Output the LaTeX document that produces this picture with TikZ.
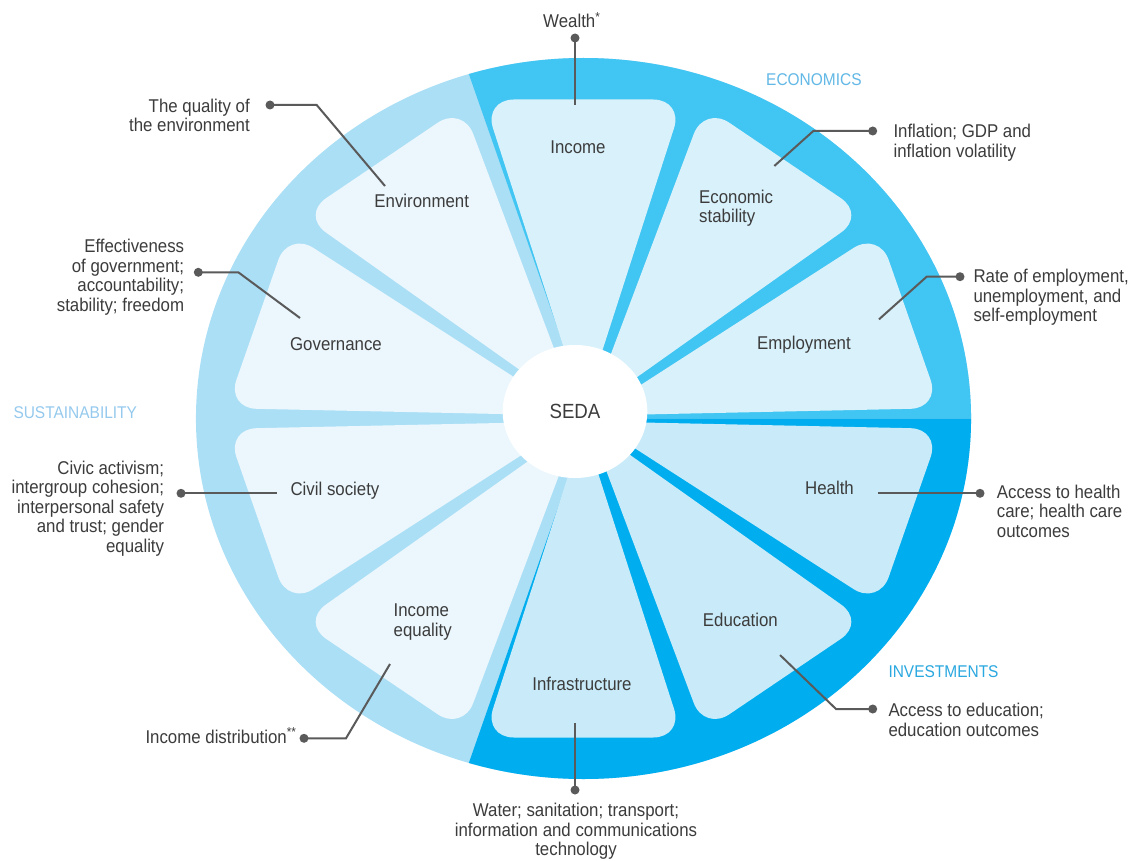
\documentclass[tikz,border=0pt]{standalone}
\usepackage{fontspec}
\setmainfont{Liberation Sans}[FakeStretch=0.91]
\definecolor{sustring}{HTML}{ABDFF6}
\definecolor{econring}{HTML}{41C5F2}
\definecolor{invring}{HTML}{00AEEF}
\definecolor{sustw}{HTML}{EBF7FD}
\definecolor{econw}{HTML}{D9F1FB}
\definecolor{invw}{HTML}{C9EBF9}
\definecolor{textgrey}{HTML}{3C3C3C}
\definecolor{leadgrey}{HTML}{5A5A5A}
\definecolor{econlbl}{HTML}{62B8E6}
\definecolor{sustlbl}{HTML}{95CAEE}
\definecolor{invlbl}{HTML}{2AA8E0}
\begin{document}
\begin{tikzpicture}[x=1pt,y=1pt,
  txt/.style={font=\fontsize{18.5}{19.6}\selectfont, text=textgrey, inner sep=0pt},
  grouplbl/.style={font=\fontsize{17}{19}\selectfont, inner sep=0pt},
  leader/.style={draw=leadgrey, line width=2pt},
  dotnode/.style={circle, fill=leadgrey, inner sep=0pt, minimum size=9pt}]
\useasboundingbox (0,0) rectangle (1134,-861);
\fill[white] (0,0) rectangle (1134,-861);

% ring and wedges
\begin{scope}[shift={(583.5,-418.5)}, xscale=1.075]
  \fill[sustring] (0,0) circle (360.5);
  \begin{scope}
    \clip (0,0) circle (360.5);
    \fill[econring] (5.26,0) -- ++(108:600) -- (600,600) -- (600,0) -- cycle;
    \fill[invring] (5.26,0) -- ++(-108:600) -- (600,-600) -- (600,0) -- cycle;
  \end{scope}
  \foreach \a/\c in {90/econw,54/econw,18/econw,-18/invw,-54/invw,-90/invw,-126/sustw,-162/sustw,162/sustw,126/sustw}{
    \fill[\c, rotate=\a, rounded corners=30pt] (9.5,0) -- (319,-92.8) -- (319,92.8) -- cycle;
  }
\end{scope}

% centre
\fill[white] (575,-411.5) ellipse [x radius=72.3, y radius=66.5];
\node[font=\fontsize{20.5}{22}\selectfont, text=textgrey, inner sep=0pt] (seda) at (575,-411.5) {SEDA};

% wedge labels
\node[txt, anchor=base] (income) at (578,-154) {Income};
\node[txt, anchor=base west, align=left] (econstab) at (699,-222.6) {Economic\\stability};
\node[txt, anchor=base] (employ) at (804,-349) {Employment};
\node[txt, anchor=base] (health) at (829.5,-494) {Health};
\node[txt, anchor=base west] (educ) at (702.7,-626.7) {Education};
\node[txt, anchor=base] (infra) at (582,-690.7) {Infrastructure};
\node[txt, anchor=base west, align=left] (ineq) at (393.5,-636.3) {Income\\equality};
\node[txt, anchor=base] (civil) at (335,-495) {Civil society};
\node[txt, anchor=base] (gov) at (336,-350) {Governance};
\node[txt, anchor=base] (env) at (421.7,-207.3) {Environment};

% group labels
\node[grouplbl, text=econlbl, anchor=base west] (econ) at (766,-86) {ECONOMICS};
\node[grouplbl, text=invlbl, anchor=base west] (inv) at (888.3,-677.3) {INVESTMENTS};
\node[grouplbl, text=sustlbl, anchor=base west] (sust) at (13.3,-418.3) {SUSTAINABILITY};

% outer descriptions (base anchor = baseline of last line)
\node[txt, anchor=base west] (wealth) at (543,-28) {Wealth\textsuperscript{*}};
\node[txt, anchor=base west, align=left] (inflation) at (893.3,-157.1) {Inflation; GDP and\\inflation volatility};
\node[txt, anchor=base west, align=left] (rate) at (973.3,-321.9) {Rate of employment,\\unemployment, and\\self-employment};
\node[txt, anchor=base west, align=left] (access) at (996.7,-537.5) {Access to health\\care; health care\\outcomes};
\node[txt, anchor=base west, align=left] (accedu) at (888.3,-736.3) {Access to education;\\education outcomes};
\node[txt, anchor=base, align=center] (water) at (576,-855.9) {Water; sanitation; transport;\\information and communications\\technology};
\node[txt, anchor=base east] (incdist) at (296.7,-743) {Income distribution\textsuperscript{**}};
\node[txt, anchor=base east, align=right] (civic) at (164.3,-552.4) {Civic activism;\\intergroup cohesion;\\interpersonal safety\\and trust; gender\\equality};
\node[txt, anchor=base east, align=right] (effect) at (184.3,-311.5) {Effectiveness\\of government;\\accountability;\\stability; freedom};
\node[txt, anchor=base east, align=right] (quality) at (250,-131.9) {The quality of\\the environment};

% leader lines
\node[dotnode] (d1) at (575,-38) {};
\coordinate (e1) at (575,-105);
\draw[leader] (d1.center) -- (e1);

\node[dotnode] (d2) at (872.7,-131) {};
\coordinate (k2) at (813.3,-131);
\coordinate (e2) at (774.3,-166);
\draw[leader] (d2.center) -- (k2) -- (e2);

\node[dotnode] (d3) at (960,-276.7) {};
\coordinate (k3) at (926.7,-276.7);
\coordinate (e3) at (879,-319.3);
\draw[leader] (d3.center) -- (k3) -- (e3);

\node[dotnode] (d4) at (980,-493.3) {};
\coordinate (e4) at (878.3,-493.3);
\draw[leader] (d4.center) -- (e4);

\node[dotnode] (d5) at (872.7,-709) {};
\coordinate (k5) at (836,-709);
\coordinate (e5) at (780,-655);
\draw[leader] (d5.center) -- (k5) -- (e5);

\node[dotnode] (d6) at (575,-790) {};
\coordinate (e6) at (575,-723.3);
\draw[leader] (d6.center) -- (e6);

\node[dotnode] (d7) at (304,-738.3) {};
\coordinate (k7) at (346,-738.3);
\coordinate (e7) at (390,-664);
\draw[leader] (d7.center) -- (k7) -- (e7);

\node[dotnode] (d8) at (181,-493.3) {};
\coordinate (e8) at (276.7,-493.3);
\draw[leader] (d8.center) -- (e8);

\node[dotnode] (d9) at (198.3,-272.3) {};
\coordinate (k9) at (238.3,-272.3);
\coordinate (e9) at (300,-318);
\draw[leader] (d9.center) -- (k9) -- (e9);

\node[dotnode] (d10) at (270,-105) {};
\coordinate (k10) at (316.7,-105);
\coordinate (e10) at (385,-186);
\draw[leader] (d10.center) -- (k10) -- (e10);
\end{tikzpicture}
\end{document}
